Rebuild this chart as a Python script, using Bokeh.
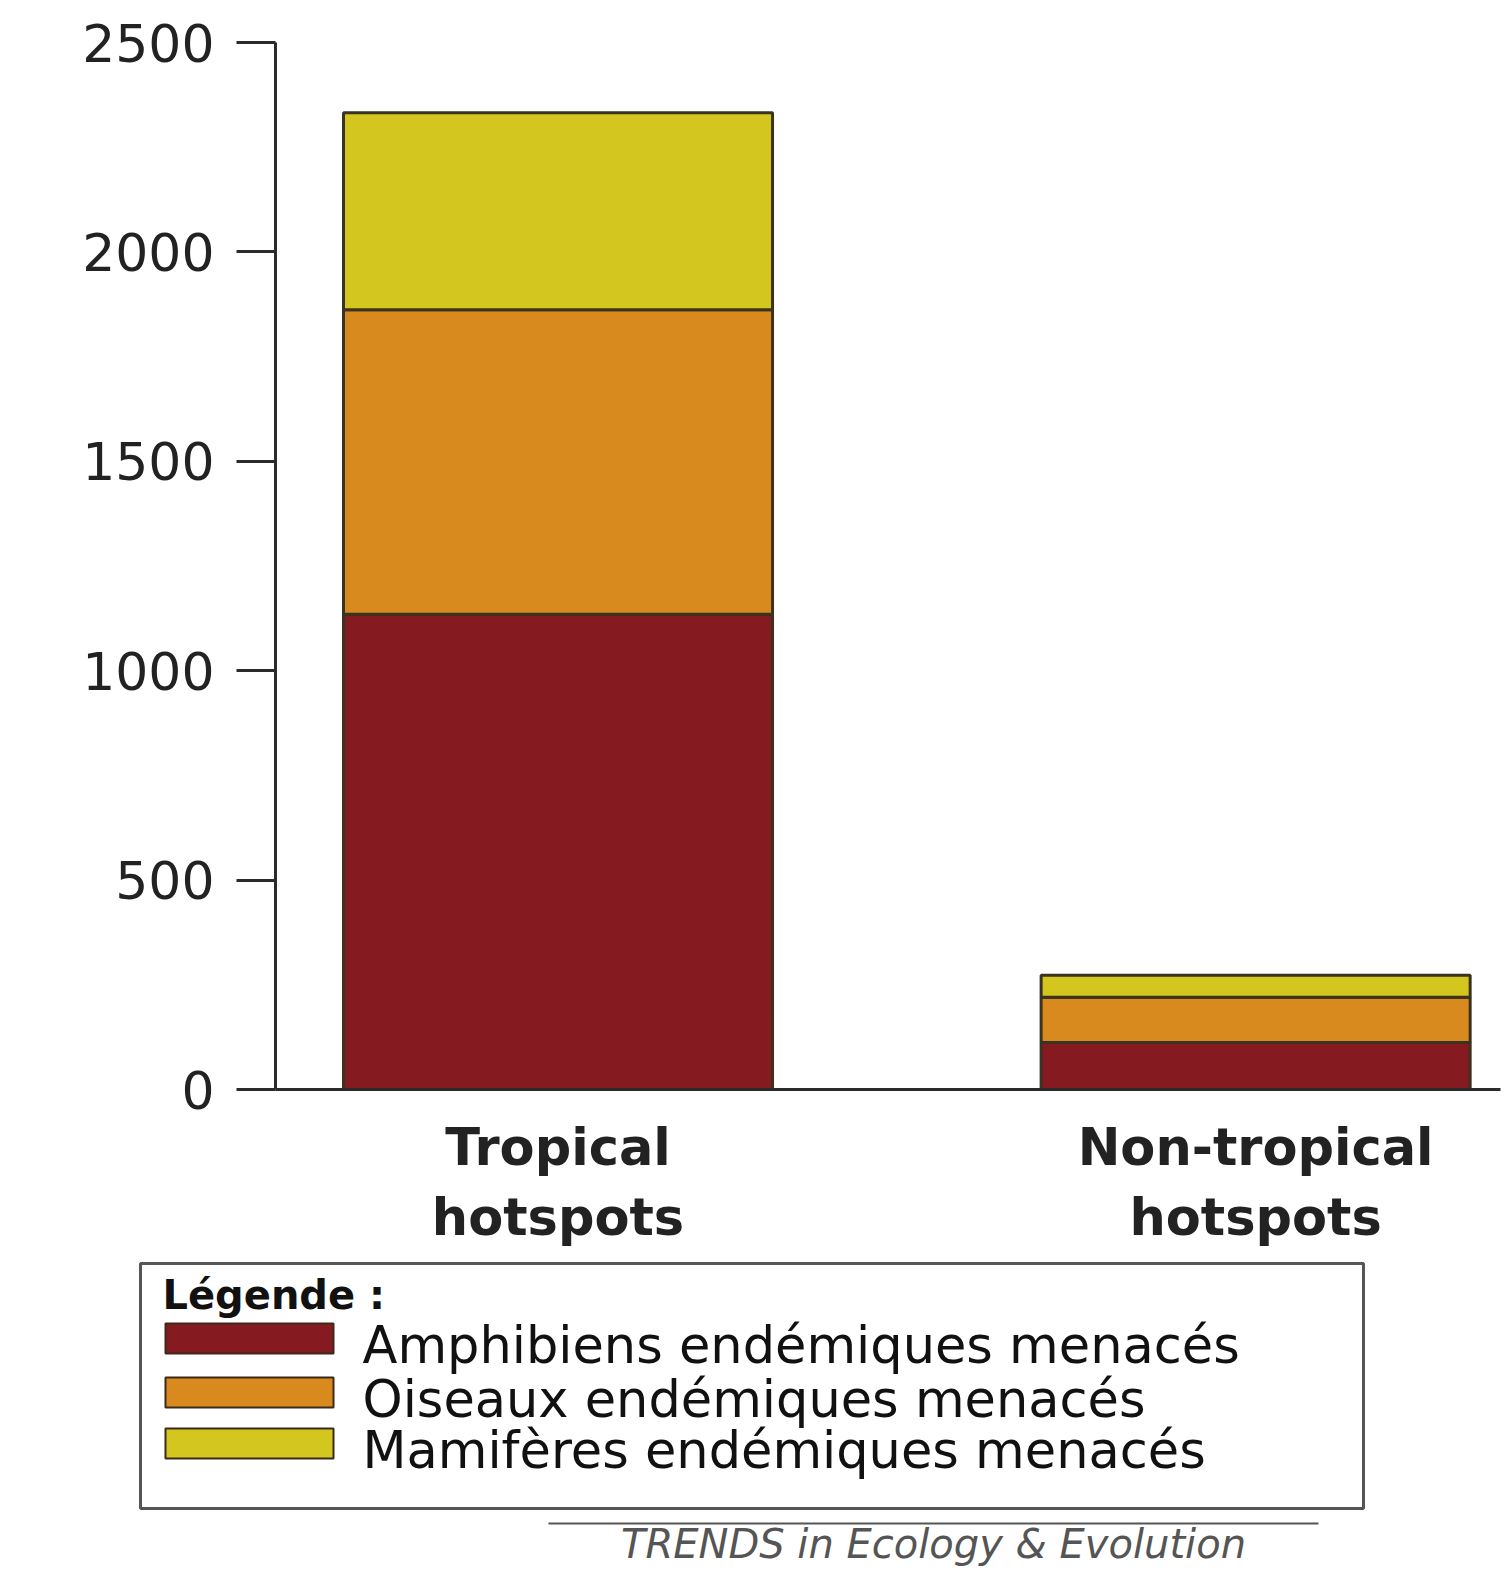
from bokeh.plotting import figure
from bokeh.models import Range1d, FixedTicker, ColumnDataSource
from bokeh.layouts import column
from bokeh.embed import file_html
from bokeh.resources import INLINE
from bokeh.core.properties import value

# ---- data ----
categories = ["Tropical\nhotspots", "Non-tropical\nhotspots"]
series_names = ["Amphibiens endémiques menacés",
                "Oiseaux endémiques menacés",
                "Mamifères endémiques menacés"]
amphibians = [1135, 112]
birds = [727, 108]
mammals = [470, 53]
colors = ["#851B20", "#D98A1F", "#D2C61F"]
y_ticks = [0, 500, 1000, 1500, 2000, 2500]
legend_title = "Légende :"
credit = "TRENDS in Ecology & Evolution"

FONT = "DejaVu Sans"
xpos = [i + 0.5 for i in range(len(categories))]

H1 = 1250
H2 = 320
W = 1508

# ---- main chart ----
p = figure(width=W, height=H1,
           x_range=Range1d(0.095, 1.851), y_range=Range1d(0, 2500),
           output_backend="svg", toolbar_location=None,
           min_border_left=275, min_border_right=8,
           min_border_top=42, min_border_bottom=H1 - 1096)
p.grid.visible = False
p.outline_line_color = None

src = ColumnDataSource(dict(x=xpos, amph=amphibians, birds=birds, mammals=mammals))
p.vbar_stack(["amph", "birds", "mammals"], x="x", width=0.615, source=src,
             fill_color=colors, line_color="#3b3320", line_width=3)

ya = p.yaxis[0]
ya.ticker = FixedTicker(ticks=y_ticks)
ya.major_tick_out = 39
ya.major_tick_in = 0
ya.minor_tick_line_color = None
ya.major_label_standoff = 22
ya.major_label_text_font = FONT
ya.major_label_text_font_size = "52px"
ya.major_label_text_color = "#222222"
ya.axis_line_width = 3
ya.axis_line_color = "#2b2b2b"
ya.major_tick_line_width = 3
ya.major_tick_line_color = "#2b2b2b"

xa = p.xaxis[0]
xa.ticker = FixedTicker(ticks=xpos)
xa.major_label_overrides = {xpos[i]: categories[i] for i in range(len(categories))}
xa.major_tick_out = 0
xa.major_tick_in = 0
xa.minor_tick_line_color = None
xa.major_label_standoff = 28
xa.major_label_text_font = FONT
xa.major_label_text_font_size = "51px"
xa.major_label_text_font_style = "bold"
xa.major_label_text_color = "#222222"
xa.axis_line_width = 3
xa.axis_line_color = "#2b2b2b"

# ---- legend panel (data coordinates = page pixels) ----
q = figure(width=W, height=H2,
           x_range=Range1d(0, W), y_range=Range1d(H1 + H2, H1),
           output_backend="svg", toolbar_location=None,
           min_border=0)
q.axis.visible = False
q.grid.visible = False
q.outline_line_color = None

for fig in (p, q):
    if "frame_align" in fig.properties():
        fig.frame_align = False

q.quad(left=[140], right=[1363], top=[1263], bottom=[1508],
       fill_color=None, line_color="#555555", line_width=3)
q.text(x=[162], y=[1294], text=[legend_title], text_baseline="middle",
       text_font=value(FONT), text_font_size="40px", text_font_style="bold",
       text_color="#111111")

sw_top = [1323, 1377, 1428]
lsrc = ColumnDataSource(dict(
    left=[165] * 3, right=[333] * 3,
    top=sw_top, bottom=[t + 30 for t in sw_top],
    color=colors, name=series_names,
    ty=[t + 22 for t in sw_top], tx=[362] * 3))
q.quad(left="left", right="right", top="top", bottom="bottom",
       fill_color="color", line_color="#3b2a1a", line_width=2, source=lsrc)
q.text(x="tx", y="ty", text="name", source=lsrc, text_baseline="middle",
       text_font=value(FONT), text_font_size="51px", text_color="#111111")

q.segment(x0=[548], y0=[1523], x1=[1318], y1=[1523], line_color="#555555", line_width=2)
q.text(x=[933], y=[1543], text=[credit], text_align="center", text_baseline="middle",
       text_font=value(FONT), text_font_size="40px", text_font_style="italic",
       text_color="#555555")

layout = column(p, q, spacing=0)
open("out.html", "w").write(file_html(layout, INLINE))
